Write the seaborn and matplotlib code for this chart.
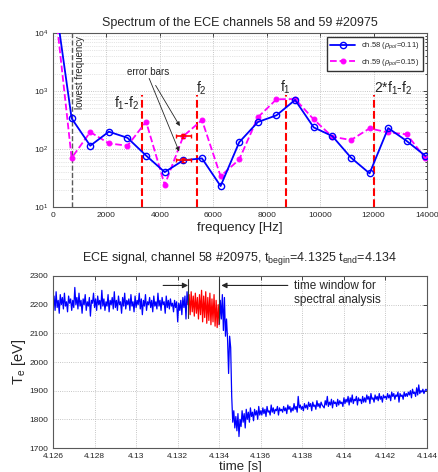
import numpy as np
import matplotlib
matplotlib.use('Agg')
import matplotlib.pyplot as plt
import seaborn as sns
from matplotlib.ticker import FormatStrFormatter, LogLocator, NullFormatter

# ---- spectrum data ----
FREQ = [0, 697, 1394, 2091, 2788, 3485, 4182, 4879, 5576, 6273, 6970,
        7667, 8364, 9061, 9758, 10455, 11152, 11849, 12546, 13243, 13940]
CH58 = [66000, 338, 114, 199, 156, 77, 40, 64, 69, 23, 131,
        292, 381, 702, 236, 167, 71, 38, 230, 137, 76]
CH59 = [60000, 70, 196, 125, 114, 296, 24, 167, 316, 34, 66,
        352, 720, 729, 324, 163, 143, 227, 193, 179, 69]

ERR_X = [4879, 4879]
ERR_Y = [167, 64]
ERR_XERR = [275, 275]
ERR_YERR = [12, 5]

MARK_FREQ = [3337, 5400, 8712, 12025]
MARK_LABELS = ['f$_1$-f$_2$', 'f$_2$', 'f$_1$', '2*f$_1$-f$_2$']
LOWEST_FREQ = 697

# ---- time signal, channel 58 ----
T_START = 4.126
T_STEP = 0.00005
T_BEGIN = 4.1325
T_END = 4.134

TE_BEFORE = [
    2195, 2230, 2180, 2245, 2190, 2215, 2170, 2235, 2200, 2225,
    2185, 2240, 2195, 2210, 2175, 2230, 2205, 2220, 2180, 2215,
    2190, 2260, 2200, 2225, 2185, 2240, 2195, 2215, 2170, 2220,
    2200, 2235, 2180, 2210, 2195, 2225, 2160, 2215, 2205, 2240,
    2190, 2220, 2180, 2230, 2200, 2215, 2185, 2250, 2195, 2220,
    2180, 2210, 2195, 2235, 2175, 2215, 2200, 2225, 2185, 2245,
    2190, 2215, 2180, 2230, 2200, 2210, 2170, 2225, 2195, 2240,
    2185, 2215, 2200, 2220, 2180, 2235, 2195, 2210, 2175, 2230,
    2190, 2215, 2200, 2240, 2185, 2220, 2165, 2215, 2195, 2235,
    2180, 2210, 2200, 2225, 2190, 2215, 2175, 2230, 2195, 2210,
    2185, 2240, 2195, 2215, 2180, 2225, 2200, 2210, 2170, 2230,
    2190, 2215, 2185, 2220, 2195, 2205, 2175, 2215, 2190, 2210,
    2140, 2205, 2180, 2215, 2165, 2225, 2190, 2230, 2150, 2245, 2200,
]
TE_WINDOW = [
    2200, 2235, 2165, 2245, 2175, 2230, 2160, 2240, 2170, 2225,
    2150, 2235, 2165, 2250, 2140, 2230, 2155, 2245, 2135, 2225,
    2145, 2240, 2130, 2220, 2140, 2235, 2125, 2215, 2120, 2200, 2130,
]
TE_AFTER = [
    2215, 2150, 2235, 2110, 2225, 2090, 2150, 2080, 1960, 2090,
    2050, 1880, 1790, 1830, 1770, 1810, 1760, 1820, 1740, 1800,
    1775, 1830, 1790, 1820, 1770, 1835, 1800, 1825, 1790, 1840,
    1810, 1825, 1795, 1835, 1815, 1830, 1800, 1845, 1815, 1830,
    1815, 1840, 1820, 1835, 1810, 1845, 1825, 1830, 1815, 1850,
    1825, 1840, 1820, 1835, 1830, 1845, 1815, 1840, 1830, 1835,
    1825, 1845, 1830, 1840, 1820, 1850, 1835, 1845, 1825, 1840,
    1830, 1855, 1835, 1845, 1825, 1880, 1840, 1850, 1835, 1845,
    1830, 1855, 1840, 1850, 1835, 1860, 1845, 1855, 1830, 1860,
    1845, 1850, 1835, 1865, 1845, 1855, 1840, 1860, 1850, 1845,
    1840, 1865, 1850, 1880, 1845, 1860, 1850, 1870, 1840, 1865,
    1855, 1860, 1845, 1870, 1850, 1865, 1855, 1860, 1845, 1875,
    1855, 1870, 1860, 1880, 1850, 1875, 1860, 1885, 1855, 1870,
    1865, 1880, 1850, 1875, 1865, 1870, 1855, 1880, 1860, 1875,
    1860, 1885, 1870, 1880, 1855, 1890, 1870, 1875, 1860, 1885,
    1870, 1880, 1865, 1890, 1870, 1880, 1860, 1885, 1875, 1880,
    1870, 1890, 1875, 1885, 1865, 1895, 1880, 1890, 1870, 1885,
    1880, 1895, 1860, 1890, 1880, 1885, 1870, 1895, 1880, 1890,
    1880, 1895, 1885, 1900, 1875, 1905, 1890, 1895, 1880, 1910,
    1885, 1920, 1890, 1900, 1895, 1905, 1890, 1900, 1905, 1900,
]

BLUE = (0, 0, 1)
MAGENTA = (1, 0, 1)
RED = (1, 0, 0)


def style_axes(ax):
    ax.tick_params(direction='in', which='both', top=True, right=True,
                   labelsize=6, length=3, width=0.6)
    ax.tick_params(which='minor', length=1.5)
    for s in ax.spines.values():
        s.set_color('0.35')
        s.set_linewidth(0.8)


def main():
    sns.set_theme(style='white')
    plt.rcParams['font.family'] = ['Liberation Sans', 'DejaVu Sans']
    plt.rcParams['mathtext.fontset'] = 'custom'
    plt.rcParams['mathtext.rm'] = 'Liberation Sans'
    plt.rcParams['mathtext.it'] = 'Liberation Sans:italic'
    plt.rcParams['mathtext.default'] = 'regular'

    fig = plt.figure(figsize=(4.38, 4.72), dpi=100)
    ax1 = fig.add_axes([0.121, 0.5614, 0.854, 0.3686])
    ax2 = fig.add_axes([0.121, 0.0508, 0.854, 0.3645])

    # --- spectrum ---
    sns.lineplot(x=FREQ, y=CH58, ax=ax1, color=BLUE, lw=1.3, marker='o',
                 markersize=4.5, markerfacecolor='none', markeredgecolor=BLUE,
                 markeredgewidth=1.0, sort=False, errorbar=None,
                 label=r'ch.58 ($\it{\rho}_{pol}$=0.11)', zorder=4)
    sns.lineplot(x=FREQ, y=CH59, ax=ax1, color=MAGENTA, lw=1.3, linestyle='--',
                 marker='o', markersize=3.5, markeredgecolor=MAGENTA,
                 sort=False, errorbar=None,
                 label=r'ch.59 ($\it{\rho}_{pol}$=0.15)', zorder=3)
    ax1.set_yscale('log')
    ax1.set_xlim(0, 14000)
    ax1.set_ylim(10, 1e4)
    ax1.set_xticks(np.arange(0, 14001, 2000))
    ax1.yaxis.set_minor_locator(LogLocator(base=10, subs=np.arange(2, 10)))
    ax1.yaxis.set_minor_formatter(NullFormatter())
    ax1.grid(True, which='major', ls=':', color='0.7', lw=0.6)
    ax1.grid(True, which='minor', ls=':', color='0.8', lw=0.5)
    ax1.set_axisbelow(True)

    for fx in MARK_FREQ:
        ax1.plot([fx, fx], [10, 850], color=RED, ls='--', lw=1.5, zorder=2)
    ax1.text(2300, 520, MARK_LABELS[0], fontsize=10)
    ax1.text(5370, 930, MARK_LABELS[1], fontsize=10)
    ax1.text(8700, 960, MARK_LABELS[2], fontsize=10, ha='center')
    ax1.text(12000, 930, MARK_LABELS[3], fontsize=10)

    ax1.plot([LOWEST_FREQ, LOWEST_FREQ], [10, 1e4], color='0.35', ls='--',
             lw=1.0, zorder=2)
    ax1.text(1000, 9000, 'lowest frequency', rotation=90, fontsize=7,
             ha='center', va='top')

    ax1.errorbar(ERR_X, ERR_Y, xerr=ERR_XERR, yerr=ERR_YERR, fmt='none',
                 ecolor=RED, elinewidth=1.2, capsize=1.5, zorder=5)
    ax1.annotate('error bars', xy=(4800, 226), xytext=(3550, 2100),
                 fontsize=7, ha='center', va='center',
                 arrowprops=dict(arrowstyle='-|>', color='0.15', lw=0.6,
                                 mutation_scale=6, shrinkA=4))
    ax1.annotate('', xy=(4760, 82), xytext=(3600, 1650),
                 arrowprops=dict(arrowstyle='-|>', color='0.15', lw=0.6,
                                 mutation_scale=6, shrinkA=0))

    ax1.legend(loc='upper right', fontsize=5.5, frameon=True, fancybox=False,
               edgecolor='0.2', framealpha=1, borderpad=0.5, handlelength=3.2,
               labelspacing=0.7)
    ax1.set_title('Spectrum of the ECE channels 58 and 59 #20975',
                  fontsize=9, pad=5)
    ax1.set_xlabel('frequency [Hz]', fontsize=9.5, labelpad=2)
    ax1.set_ylabel('')
    style_axes(ax1)

    # --- time signal ---
    t_a = T_START + T_STEP * np.arange(len(TE_BEFORE))
    t_w = T_BEGIN + T_STEP * np.arange(len(TE_WINDOW))
    t_b = T_END + T_STEP * np.arange(1, len(TE_AFTER) + 1)
    sns.lineplot(x=t_a, y=TE_BEFORE, ax=ax2, color=BLUE, lw=0.9,
                 sort=False, errorbar=None)
    sns.lineplot(x=np.concatenate([[T_END], t_b]),
                 y=np.concatenate([[TE_WINDOW[-1]], TE_AFTER]), ax=ax2,
                 color=BLUE, lw=0.9, sort=False, errorbar=None)
    sns.lineplot(x=t_w, y=TE_WINDOW, ax=ax2, color=RED, lw=0.9,
                 sort=False, errorbar=None)

    ax2.plot([T_BEGIN, T_BEGIN], [2155, 2288], color='0.2', lw=0.8)
    ax2.plot([T_END, T_END], [2135, 2288], color='0.2', lw=0.8)
    ax2.annotate('', xy=(T_BEGIN, 2267), xytext=(4.1313, 2267),
                 arrowprops=dict(arrowstyle='-|>', color='0.15', lw=0.8,
                                 mutation_scale=8, shrinkA=0, shrinkB=0))
    ax2.annotate('', xy=(T_END + 0.0001, 2267), xytext=(4.1373, 2267),
                 arrowprops=dict(arrowstyle='-|>', color='0.15', lw=0.8,
                                 mutation_scale=8, shrinkA=0, shrinkB=0))
    ax2.text(4.1376, 2242, 'time window for\nspectral analysis', fontsize=8.5,
             ha='left', va='center', linespacing=1.2)

    ax2.set_xlim(4.126, 4.144)
    ax2.set_ylim(1700, 2300)
    ax2.set_xticks(np.arange(4.126, 4.14401, 0.002))
    ax2.xaxis.set_major_formatter(FormatStrFormatter('%g'))
    ax2.set_yticks(np.arange(1700, 2301, 100))
    ax2.grid(True, ls=':', color='0.7', lw=0.6)
    ax2.set_axisbelow(True)
    ax2.set_title('ECE signal, channel 58 #20975, t$_{begin}$=4.1325 '
                  't$_{end}$=4.134', fontsize=9, pad=11)
    ax2.set_xlabel('time [s]', fontsize=9.5, labelpad=1)
    ax2.set_ylabel('T$_e$ [eV]', fontsize=10.5, labelpad=1)
    style_axes(ax2)

    fig.savefig('out.png', dpi=100)
    plt.close(fig)


if __name__ == '__main__':
    main()
